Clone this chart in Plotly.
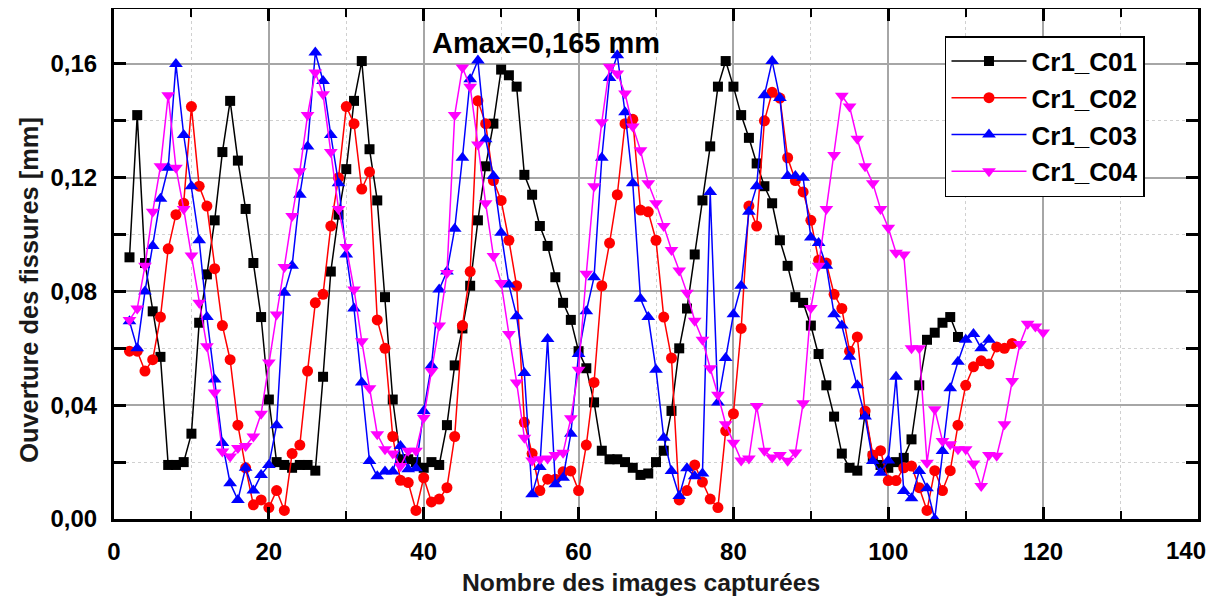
import plotly.graph_objects as go

x_c01 = list(range(2, 110))
c01 = [0.092, 0.142, 0.090, 0.073, 0.057, 0.019, 0.019, 0.020, 0.030, 0.069,
       0.086, 0.105, 0.129, 0.147, 0.126, 0.109, 0.090, 0.071, 0.042, 0.020,
       0.019, 0.018, 0.019, 0.019, 0.017, 0.050, 0.087, 0.107, 0.123, 0.147,
       0.161, 0.130, 0.112, 0.078, 0.042, 0.021, 0.021, 0.020, 0.018, 0.020,
       0.019, 0.033, 0.054, 0.067, 0.082, 0.105, 0.124, 0.139, 0.158, 0.156,
       0.152, 0.121, 0.114, 0.103, 0.096, 0.085, 0.076, 0.070, 0.059, 0.053,
       0.041, 0.024, 0.021, 0.021, 0.020, 0.018, 0.0155, 0.016, 0.020, 0.024,
       0.038, 0.060, 0.074, 0.093, 0.112, 0.131, 0.152, 0.161, 0.152, 0.142,
       0.134, 0.125, 0.117, 0.111, 0.098, 0.089, 0.078, 0.076, 0.068, 0.058,
       0.047, 0.036, 0.023, 0.018, 0.017, 0.037, 0.022, 0.019, 0.018, 0.020,
       0.0215, 0.028, 0.047, 0.063, 0.0655, 0.069, 0.071, 0.064]

x_c02 = list(range(2, 117))
c02 = [0.059, 0.059, 0.052, 0.056, 0.071, 0.095, 0.107, 0.111, 0.145, 0.117,
       0.110, 0.088, 0.068, 0.056, 0.033, 0.018, 0.005, 0.0067, 0.004, 0.010,
       0.003, 0.023, 0.026, 0.052, 0.076, 0.079, 0.103, 0.120, 0.145, 0.139,
       0.116, 0.122, 0.070, 0.060, 0.029, 0.0136, 0.0128, 0.003, 0.0145, 0.006,
       0.007, 0.011, 0.029, 0.068, 0.087, 0.147, 0.139, 0.119, 0.112, 0.098,
       0.082, 0.034, 0.023, 0.010, 0.014, 0.014, 0.0166, 0.0169, 0.010, 0.026,
       0.048, 0.082, 0.097, 0.114, 0.139, 0.1405, 0.1086, 0.108, 0.098, 0.071,
       0.0566, 0.0067, 0.010, 0.019, 0.013, 0.007, 0.004, 0.031, 0.037, 0.067,
       0.110, 0.103, 0.140, 0.150, 0.148, 0.127, 0.119, 0.115, 0.105, 0.091,
       0.090, 0.079, 0.074, 0.059, 0.064, 0.038, 0.0225, 0.024, 0.0135, 0.0135,
       0.018, 0.0186, 0.011, 0.003, 0.017, 0.010, 0.017, 0.033, 0.047, 0.0535,
       0.0556, 0.0545, 0.0605, 0.060, 0.0617]

x_c03 = list(range(2, 114))
c03 = [0.0695, 0.060, 0.080, 0.096, 0.1126, 0.1235, 0.160, 0.135, 0.117, 0.098,
       0.071, 0.049, 0.0267, 0.0126, 0.0067, 0.018, 0.010, 0.0155, 0.019, 0.033,
       0.0795, 0.089, 0.114, 0.131, 0.164, 0.154, 0.135, 0.118, 0.093, 0.074,
       0.048, 0.0204, 0.015, 0.0167, 0.0167, 0.0257, 0.0175, 0.0178, 0.038, 0.054,
       0.0807, 0.087, 0.102, 0.127, 0.1546, 0.1612, 0.1335, 0.1206, 0.1006, 0.0824,
       0.0713, 0.0513, 0.0087, 0.0183, 0.0633, 0.0122, 0.0145, 0.030, 0.058, 0.073,
       0.085, 0.127, 0.155, 0.163, 0.143, 0.118, 0.0774, 0.071, 0.0525, 0.0286,
       0.0169, 0.0081, 0.0178, 0.015, 0.016, 0.115, 0.041, 0.0566, 0.072, 0.082,
       0.108, 0.117, 0.149, 0.161, 0.148, 0.1206, 0.1206, 0.120, 0.099, 0.097,
       0.089, 0.072, 0.068, 0.057, 0.047, 0.036, 0.0204, 0.0163, 0.0206, 0.050,
       0.0098, 0.0073, 0.0169, 0.0108, 0.0, 0.0239, 0.046, 0.0553, 0.063, 0.065,
       0.060, 0.063]

x_c04 = list(range(2, 121))
c04 = [0.070, 0.074, 0.089, 0.108, 0.124, 0.149, 0.1235, 0.109, 0.0926, 0.076,
       0.0607, 0.0445, 0.0237, 0.022, 0.025, 0.0257, 0.029, 0.037, 0.055, 0.0719,
       0.0886, 0.1065, 0.1223, 0.142, 0.157, 0.1493, 0.129, 0.109, 0.0956, 0.0807,
       0.0625, 0.046, 0.0298, 0.0245, 0.023, 0.0186, 0.024, 0.024, 0.0356, 0.052,
       0.068, 0.0865, 0.142, 0.1587, 0.152, 0.1317, 0.111, 0.0925, 0.083, 0.065,
       0.048, 0.0286, 0.0206, 0.021, 0.0213, 0.0225, 0.0233, 0.0354, 0.0525, 0.0862,
       0.117, 0.1395, 0.159, 0.1566, 0.1496, 0.138, 0.1296, 0.118, 0.111, 0.103,
       0.0946, 0.0874, 0.0795, 0.0697, 0.063, 0.053, 0.0437, 0.0333, 0.0268, 0.0206,
       0.0213, 0.0397, 0.024, 0.0216, 0.0225, 0.0205, 0.0234, 0.0407, 0.0742, 0.089,
       0.109, 0.128, 0.1488, 0.145, 0.1337, 0.124, 0.118, 0.109, 0.1024, 0.0936,
       0.093, 0.060, 0.060, 0.0198, 0.0386, 0.0274, 0.0263, 0.0245, 0.0245, 0.0195,
       0.0116, 0.0225, 0.0222, 0.0333, 0.0485, 0.0615, 0.0686, 0.0677, 0.0656]

series_names = ["Cr1_C01", "Cr1_C02", "Cr1_C03", "Cr1_C04"]
x_tick_vals = [0, 20, 40, 60, 80, 100, 120, 140]
x_tick_text = ["0", "20", "40", "60", "80", "100", "120", ""]
last_x_label = "140"
y_tick_vals = [0.0, 0.04, 0.08, 0.12, 0.16]
y_tick_text = ["0,00", "0,04", "0,08", "0,12", "0,16"]
title_text = "Amax=0,165 mm"
x_title = "Nombre des images capturées"
y_title = "Ouverture des fissures [mm]"

FONT = "Liberation Sans, Arial, sans-serif"
styles = [
    dict(color="#000000", symbol="square", size=10),
    dict(color="#ff0000", symbol="circle", size=11),
    dict(color="#0000ff", symbol="triangle-up", size=12),
    dict(color="#ff00ff", symbol="triangle-down", size=12),
]

fig = go.Figure()
for name, xs, ys, st in zip(series_names, [x_c01, x_c02, x_c03, x_c04],
                            [c01, c02, c03, c04], styles):
    fig.add_trace(go.Scatter(
        x=xs, y=ys, name=name, mode="lines+markers",
        line=dict(color=st["color"], width=1.5),
        marker=dict(color=st["color"], symbol=st["symbol"], size=st["size"],
                    line=dict(width=0)),
    ))

axis_common = dict(
    showline=True, linecolor="black", linewidth=3, mirror="allticks",
    ticks="inside", tickcolor="black", tickwidth=3, ticklen=12,
    showgrid=True, gridcolor="#a6a6a6", gridwidth=1.5,
    zeroline=False,
    tickfont=dict(family=FONT, size=24, color="black", weight="bold"),
    ticklabelstandoff=9,
)

fig.update_xaxes(
    **axis_common,
    range=[0, 140], tickvals=x_tick_vals, ticktext=x_tick_text,
    minor=dict(dtick=10, ticks="inside", ticklen=8, tickwidth=2, tickcolor="black",
               showgrid=True, gridcolor="#d0d0d0", griddash="dot", gridwidth=1),
)
fig.update_yaxes(
    **axis_common,
    range=[0, 0.1793], tickvals=y_tick_vals, ticktext=y_tick_text,
    minor=dict(dtick=0.02, ticks="inside", ticklen=12, tickwidth=3, tickcolor="black",
               showgrid=True, gridcolor="#d0d0d0", griddash="dot", gridwidth=1),
)

# last x tick label drawn as text so it stays inside the page
fig.add_annotation(
    text=last_x_label, xref="x", yref="paper", x=x_tick_vals[-1], y=-0.0627,
    xshift=-12, showarrow=False, xanchor="center", yanchor="middle",
    font=dict(family=FONT, size=24, color="black", weight="bold"),
)
fig.add_annotation(
    text=title_text, xref="paper", yref="paper", x=0.3985, y=0.933,
    showarrow=False, xanchor="center", yanchor="middle",
    font=dict(family=FONT, size=29, color="black", weight="bold"),
)
fig.add_annotation(
    text=x_title, xref="paper", yref="paper", x=0.486, y=-0.124,
    showarrow=False, xanchor="center", yanchor="middle",
    font=dict(family=FONT, size=24.7, color="#1a1a1a", weight="bold"),
)
fig.add_annotation(
    text=y_title, xref="paper", yref="paper", x=-0.079, y=0.45,
    showarrow=False, xanchor="center", yanchor="middle", textangle=-90,
    font=dict(family=FONT, size=25.4, color="#1a1a1a", weight="bold"),
)

fig.update_layout(
    width=1205, height=589,
    margin=dict(l=106, r=15, t=1, b=78, autoexpand=False),
    paper_bgcolor="white", plot_bgcolor="white",
    showlegend=True,
    legend=dict(
        x=0.7666, y=0.947, xanchor="left", yanchor="top",
        bgcolor="white", bordercolor="black", borderwidth=1.5,
        font=dict(family=FONT, size=26, color="black", weight="bold"),
        tracegroupgap=0, itemwidth=75,
    ),
)

fig.write_html("out.html")
